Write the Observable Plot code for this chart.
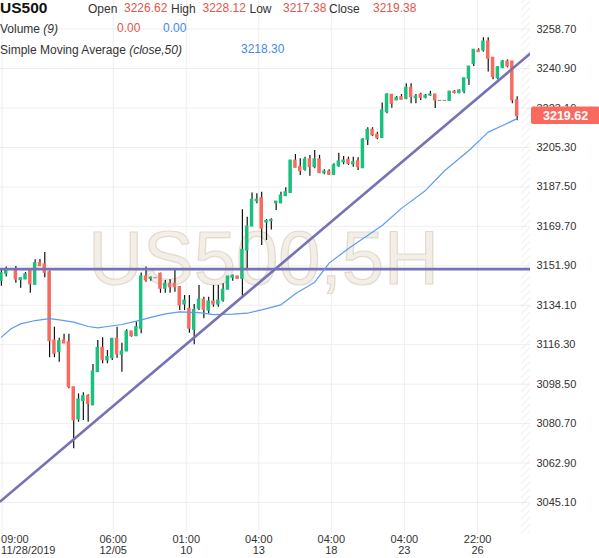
<!DOCTYPE html>
<html><head><meta charset="utf-8">
<script src="https://cdn.jsdelivr.net/npm/d3@7"></script>
<script src="https://cdn.jsdelivr.net/npm/@observablehq/plot@0.6"></script>
<style>
body{margin:0;background:#fff;}
#wrap{position:relative;width:599px;height:558px;}
</style></head><body><div id="wrap"></div>
<script>
// ---- data (5H candles, index-based) ----
const opens = [3145.0,3148.3,3150.1,3150.1,3145.4,3145.7,3149.8,3143.3,3153.1,3152.5,
3149.0,3118.2,3112.9,3118.3,3117.4,3097.1,3082.6,3090.8,3093.1,3088.9,
3103.9,3114.9,3109.2,3110.2,3119.0,3111.7,3113.2,3122.3,3120.1,3123.5,
3147.1,3146.0,3146.3,3148.3,3141.5,3143.8,3143.8,3142.2,3134.4,3132.5,
3123.0,3132.5,3136.6,3131.7,3135.8,3134.4,3136.2,3141.1,3146.5,3147.1,
3146.0,3158.8,3169.6,3181.0,3182.4,3171.4,3172.0,3180.1,3180.1,3183.3,
3184.7,3199.4,3196.4,3195.2,3199.9,3196.4,3199.9,3193.7,3194.4,3193.0,
3196.8,3198.6,3199.7,3197.7,3199.1,3195.9,3208.8,3213.3,3211.1,3209.5,
3221.2,3229.1,3226.5,3228.0,3227.2,3232.2,3227.5,3229.1,3227.7,3228.7,
3229.2,3226.3,3226.3,3226.3,3230.5,3229.8,3230.5,3236.3,3243.0,3249.0,
3249.0,3253.1,3245.8,3236.5,3241.2,3244.1,3244.1,3226.62];
const highs = [3150.1,3151.3,3150.1,3151.6,3146.3,3148.9,3149.8,3154.6,3154.7,3157.9,
3149.5,3124.2,3119.2,3121.0,3121.0,3097.1,3094.1,3094.6,3093.7,3107.4,
3118.2,3119.4,3113.7,3119.0,3124.2,3117.0,3123.0,3122.3,3126.5,3148.6,
3151.3,3146.8,3146.3,3148.6,3145.3,3145.6,3150.1,3142.6,3138.5,3138.5,
3134.4,3143.0,3137.7,3137.7,3143.0,3143.0,3143.8,3147.1,3147.8,3147.1,
3177.2,3173.8,3184.7,3184.4,3185.1,3172.8,3173.1,3180.9,3185.1,3187.1,
3199.4,3202.1,3200.2,3200.9,3201.7,3203.9,3201.7,3195.2,3195.2,3197.9,
3202.7,3201.2,3200.9,3200.9,3200.6,3209.2,3214.2,3214.2,3212.2,3225.3,
3229.5,3229.1,3228.3,3229.2,3234.0,3234.0,3229.2,3229.8,3229.2,3230.7,
3229.2,3226.3,3226.3,3230.5,3231.0,3231.3,3236.5,3241.8,3249.4,3249.8,
3254.8,3254.8,3245.8,3241.8,3244.5,3244.8,3244.1,3228.12];
const lows = [3142.7,3146.8,3150.1,3144.0,3141.8,3145.7,3139.5,3143.3,3151.7,3146.5,
3110.4,3110.4,3108.4,3116.8,3096.4,3069.3,3081.3,3082.1,3081.3,3088.9,
3103.9,3107.7,3107.7,3109.2,3110.2,3103.9,3113.2,3119.7,3120.1,3121.2,
3144.5,3144.9,3146.3,3139.5,3139.5,3139.5,3140.0,3131.7,3131.7,3121.5,
3116.3,3131.7,3128.0,3130.2,3133.2,3133.2,3135.5,3141.1,3144.9,3146.0,
3137.7,3150.1,3169.6,3179.9,3161.1,3163.3,3168.1,3176.9,3179.9,3183.3,
3184.7,3196.1,3192.6,3194.6,3192.3,3195.7,3193.7,3193.0,3192.6,3192.6,
3196.4,3197.5,3197.2,3196.4,3194.9,3195.9,3206.2,3210.2,3208.8,3209.5,
3220.5,3223.0,3226.5,3226.8,3226.8,3225.0,3225.0,3226.5,3227.2,3228.3,
3222.9,3226.3,3226.3,3226.3,3229.5,3229.5,3229.5,3233.3,3241.8,3248.3,
3248.3,3239.3,3235.8,3235.8,3240.8,3241.2,3225.0,3217.38];
const closes = [3148.6,3150.1,3150.1,3145.7,3146.3,3148.1,3143.5,3153.1,3151.7,3148.7,
3117.9,3112.2,3117.9,3116.8,3097.1,3082.1,3091.6,3093.1,3089.6,3104.2,
3114.9,3109.5,3110.7,3119.0,3111.9,3113.2,3122.3,3120.1,3124.2,3147.1,
3145.3,3146.5,3146.3,3141.5,3143.8,3142.2,3142.2,3134.0,3136.2,3123.5,
3132.0,3136.6,3132.0,3135.8,3134.4,3136.2,3141.1,3147.1,3147.4,3146.0,
3159.1,3169.6,3181.7,3181.7,3168.7,3172.1,3172.5,3180.9,3183.6,3185.1,
3199.4,3196.1,3194.6,3199.9,3196.4,3199.9,3193.7,3194.4,3193.0,3197.2,
3199.0,3199.4,3197.9,3198.6,3196.4,3208.9,3213.3,3210.7,3209.5,3222.0,
3229.2,3225.0,3227.7,3226.8,3232.2,3228.0,3228.3,3227.7,3228.7,3229.2,
3226.5,3226.3,3226.3,3230.5,3229.8,3231.0,3236.5,3241.8,3249.4,3248.3,
3253.1,3245.3,3237.0,3241.5,3244.1,3241.8,3226.5,3219.38];

// SMA(close,50)
const smaIdx = [0,2,4,7,10,12,15,18,20,22,25,28,31,34,37,41,44,48,51,54,58,61,65,68,72,79,83,88,92,97,101,104,107];
const smaVal = [3119.7,3123.5,3125.7,3127.2,3128.1,3127.5,3126.5,3124.5,3123.9,3124.5,3125.4,3126.9,3128.6,3130.2,3131.1,3130.8,3129.9,3130.1,3130.5,3132.0,3134.3,3139.3,3144.5,3153.1,3159.7,3170.1,3177.8,3185.9,3194.9,3203.9,3212.2,3215.2,3218.30];

// drawn lines
const hLevel = 3150.4;
const trendIdx = [-0.19, 109.8];
const trendVal = [3045.7, 3247.8];

// axes
const yTicks = [3045.10,3062.90,3080.70,3098.50,3116.30,3134.10,3151.90,3169.70,3187.50,3205.30,3223.10,3240.90,3258.70];
const xTickPos = [0.15, 23.2, 38.35, 53.4, 68.45, 83.6, 98.8];
const xTickTime = ["09:00","06:00","01:00","04:00","04:00","04:00","22:00"];
const xTickDate = ["11/28/2019","12/05","10","13","18","23","26"];

const lastPrice = 3219.62;
const volumeVals = ["0.00", "0.00"];
const symbol = "US500";
const watermark = "US500,5H";

// ---- build ----
const GREEN = "#1cc07e", RED = "#f86a5e", FLAT = "#8a8a8a", PURPLE = "#7672b6", BLUE = "#5c9bf2";
const TXT = "#333", VRED = "#e2564b", VBLUE = "#3f89ea";
const candles = opens.map((o, i) => ({i, o, h: highs[i], l: lows[i], c: closes[i]}));
const sma = smaIdx.map((i, k) => ({i, v: smaVal[k]}));
const trend = trendIdx.map((i, k) => ({i, v: trendVal[k]}));
const xLab = xTickPos.map((p, k) => ({p, t: xTickTime[k] + "\n" + xTickDate[k]}));
const col = d => d.c > d.o ? GREEN : d.c < d.o ? RED : FLAT;
const bw = 0.36;
const xDomain = [-0.187, 109.77];
const yDomain = [3030.66, 3271.6];
const hatchStart = 107.9;

const chart = Plot.plot({
  width: 599, height: 558,
  marginTop: 0, marginLeft: 0, marginRight: 69, marginBottom: 24,
  x: {domain: xDomain, axis: null},
  y: {domain: yDomain, axis: null},
  color: {type: "identity"},
  style: {fontFamily: '"Liberation Sans", Arial, sans-serif', fontSize: "11px", color: TXT, background: "#fff", overflow: "visible"},
  marks: [
    Plot.ruleY(yTicks, {stroke: "#eeeeee", strokeWidth: 1}),
    Plot.ruleX(xTickPos, {stroke: "#eeeeee", strokeWidth: 1}),
    Plot.text([watermark], {frameAnchor: "middle", dx: -2, dy: 16, lineAnchor: "bottom", fontSize: 76,
      fill: "#f3efe8", stroke: "#e2dacd", strokeWidth: 1.2, paintOrder: "normal"}),
    Plot.rect([0], {x1: hatchStart, x2: xDomain[1], y1: yDomain[0], y2: yDomain[1], fill: "url(#hatch)"}),
    Plot.ruleX(candles, {x: "i", y1: "l", y2: "h", stroke: "#111", strokeWidth: 1.2}),
    Plot.rect(candles, {x1: d => d.i - bw, x2: d => d.i + bw, y1: "o", y2: "c", fill: col, insetTop: -0.5, insetBottom: -0.5}),
    Plot.ruleY([hLevel], {stroke: PURPLE, strokeWidth: 2.6}),
    Plot.line(sma, {x: "i", y: "v", stroke: BLUE, strokeWidth: 1.2}),
    Plot.line(trend, {x: "i", y: "v", stroke: PURPLE, strokeWidth: 2.6, clip: true}),
    Plot.axisY(yTicks, {anchor: "right", tickSize: 0, tickPadding: 6, tickFormat: d => d.toFixed(2), fontSize: 11, fill: TXT, label: null}),
    Plot.text(xLab.slice(0, 1), {x: "p", text: "t", frameAnchor: "bottom", lineAnchor: "top", textAnchor: "start", dx: -1, dy: 1, lineHeight: 1.0, fontSize: 11, fill: TXT}),
    Plot.text(xLab.slice(1), {x: "p", text: "t", frameAnchor: "bottom", lineAnchor: "top", dy: 1, lineHeight: 1.0, fontSize: 11, fill: TXT})
  ]
});

const svg = d3.select(chart);
svg.insert("defs", ":first-child").html(
  '<pattern id="hatch" width="5" height="5" patternUnits="userSpaceOnUse" patternTransform="rotate(45)">' +
  '<line x1="0" y1="0" x2="0" y2="5" stroke="#e4e4e4" stroke-width="1.2"/></pattern>');

// price tag
const yPx = chart.scale("y").apply(lastPrice);
const xRight = chart.scale("x").range[1];
const tag = svg.append("g").attr("text-anchor", "start");
tag.append("rect").attr("x", xRight + 1).attr("y", yPx - 8.7).attr("width", 599 - xRight).attr("height", 17.4)
  .attr("rx", 2).attr("fill", RED);
tag.append("text").attr("x", xRight + 13).attr("y", yPx + 4.4).attr("fill", "#fff")
  .attr("font-size", "12.5px").attr("font-weight", "bold").text(lastPrice.toFixed(2));

// header
const n = opens.length - 1;
const hdr = svg.append("g").attr("text-anchor", "start")
  .attr("font-family", '"Liberation Sans", Arial, sans-serif').attr("font-size", "12px");
hdr.append("text").attr("x", 0).attr("y", 12.5).attr("font-size", "15.5px").attr("font-weight", "bold").attr("fill", "#111").text(symbol);
const line1 = [
  [88, 13, "Open", TXT], [124, 11.5, opens[n].toFixed(2), VRED],
  [171, 13, "High", TXT], [202.5, 11.5, highs[n].toFixed(2), VRED],
  [249.5, 13, "Low", TXT], [283, 11.5, lows[n].toFixed(2), VRED],
  [329, 13, "Close", TXT], [373, 11.5, closes[n].toFixed(2), VRED]
];
line1.forEach(([x, y, t, c]) => hdr.append("text").attr("x", x).attr("y", y).attr("fill", c).text(t));
const v = hdr.append("text").attr("x", 0).attr("y", 33).attr("fill", TXT);
v.append("tspan").text("Volume ");
v.append("tspan").attr("font-style", "italic").text("(9)");
hdr.append("text").attr("x", 117).attr("y", 32).attr("fill", VRED).text(volumeVals[0]);
hdr.append("text").attr("x", 163).attr("y", 32).attr("fill", VBLUE).text(volumeVals[1]);
const s = hdr.append("text").attr("x", 0).attr("y", 54).attr("fill", TXT);
s.append("tspan").text("Simple Moving Average ");
s.append("tspan").attr("font-style", "italic").text("(close,50)");
hdr.append("text").attr("x", 241).attr("y", 53).attr("fill", VBLUE).text(smaVal[smaVal.length - 1].toFixed(2));

document.getElementById("wrap").appendChild(chart);
</script></body></html>
